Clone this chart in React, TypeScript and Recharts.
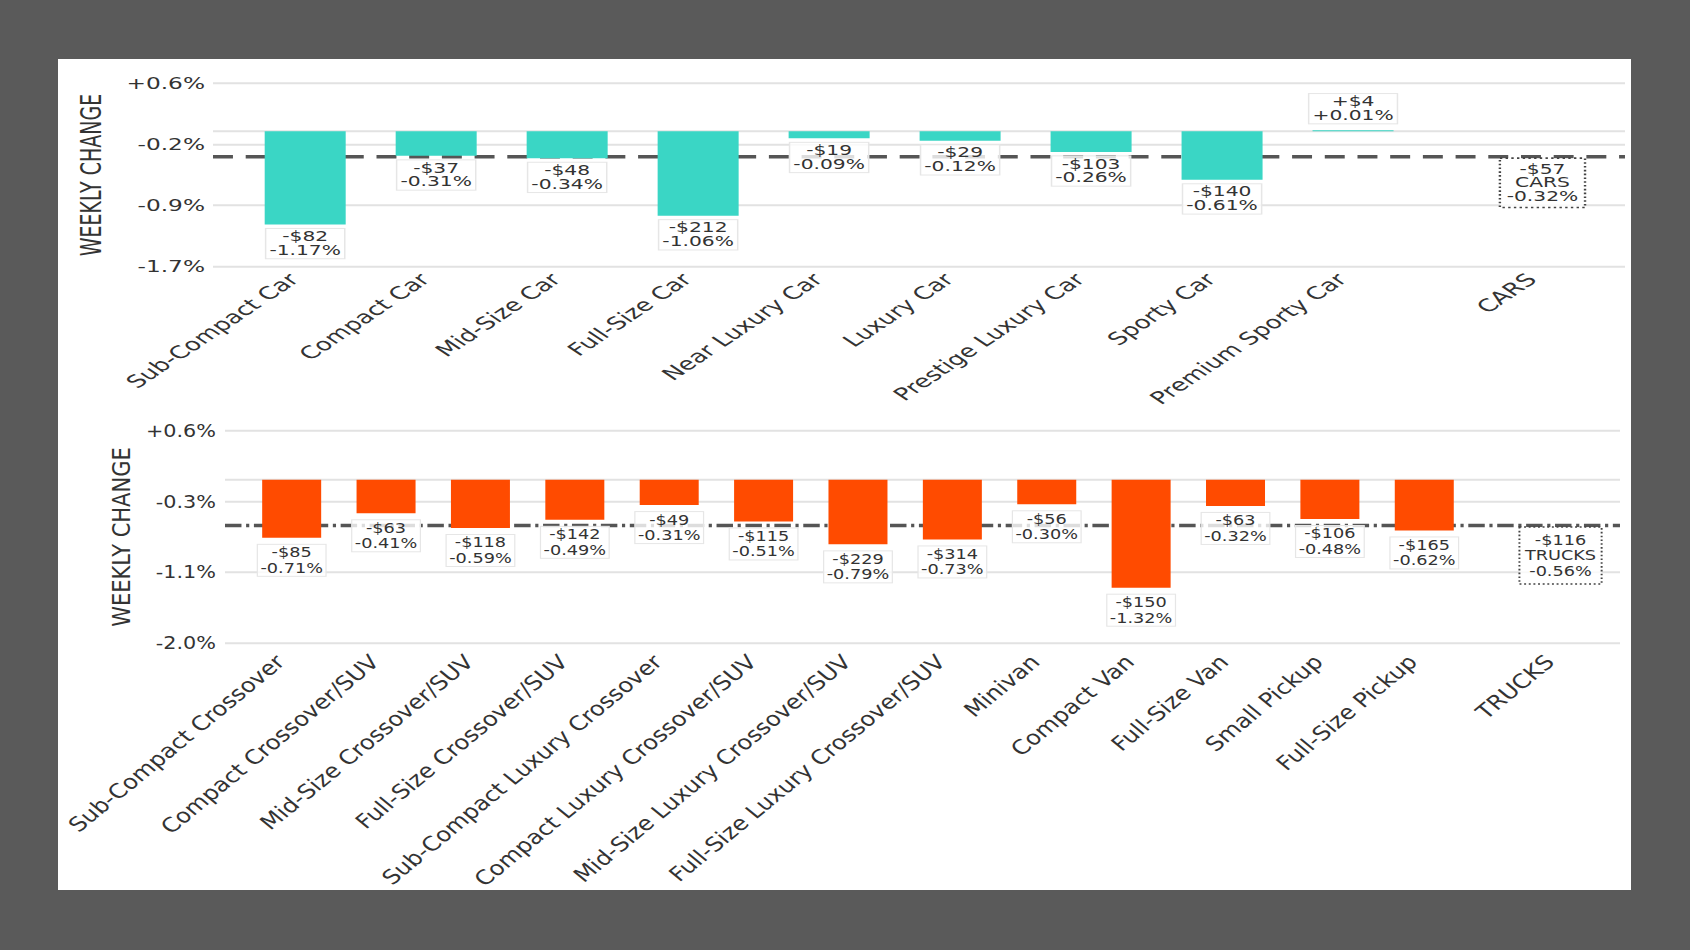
import React from 'react';
import {
  ComposedChart,
  Bar,
  Scatter,
  XAxis,
  YAxis,
  CartesianGrid,
  ReferenceLine,
  LabelList
} from 'recharts';

// ---- data ----
const CAR_NAMES = [
  'Sub-Compact Car', 'Compact Car', 'Mid-Size Car', 'Full-Size Car', 'Near Luxury Car',
  'Luxury Car', 'Prestige Luxury Car', 'Sporty Car', 'Premium Sporty Car'
];
const CAR_PCT = [-1.17, -0.31, -0.34, -1.06, -0.09, -0.12, -0.26, -0.61, 0.01];
const CAR_USD = [-82, -37, -48, -212, -19, -29, -103, -140, 4];
const CAR_TOTAL_NAME = 'CARS';
const CAR_TOTAL_PCT = -0.32;
const CAR_TOTAL_USD = -57;
const CAR_TICKS = [0.6, -0.17, -0.93, -1.7];

const TRUCK_NAMES = [
  'Sub-Compact Crossover', 'Compact Crossover/SUV', 'Mid-Size Crossover/SUV', 'Full-Size Crossover/SUV',
  'Sub-Compact Luxury Crossover', 'Compact Luxury Crossover/SUV', 'Mid-Size Luxury Crossover/SUV',
  'Full-Size Luxury Crossover/SUV', 'Minivan', 'Compact Van', 'Full-Size Van', 'Small Pickup', 'Full-Size Pickup'
];
const TRUCK_PCT = [-0.71, -0.41, -0.59, -0.49, -0.31, -0.51, -0.79, -0.73, -0.30, -1.32, -0.32, -0.48, -0.62];
const TRUCK_USD = [-85, -63, -118, -142, -49, -115, -229, -314, -56, -150, -63, -106, -165];
const TRUCK_TOTAL_NAME = 'TRUCKS';
const TRUCK_TOTAL_PCT = -0.56;
const TRUCK_TOTAL_USD = -116;
const TRUCK_TICKS = [0.6, -0.27, -1.13, -2.0];

const FONT = '"DejaVu Sans", sans-serif';
const INK = '#333';
const GRID = '#e2e2e2';
const SUMMARY_GAP = 1.45; // the total bar sits a little apart from the others

let measureCtx: CanvasRenderingContext2D | null = null;
const textWidth = (s: string, size: number) => {
  if (!measureCtx) measureCtx = document.createElement('canvas').getContext('2d');
  if (!measureCtx) return s.length * size * 0.62;
  measureCtx.font = `${size}px "DejaVu Sans"`;
  return measureCtx.measureText(s).width;
};

const money = (v: number) => (v < 0 ? '-$' : '+$') + Math.abs(v);
const pctText = (v: number) => (v < 0 ? '-' : '+') + Math.abs(v).toFixed(2) + '%';
const tickText = (v: number) => (v > 0 ? '+' : v < 0 ? '-' : '') + Math.abs(v).toFixed(1) + '%';

// horizontal sizes marked "Px" are page pixels, before the panel is stretched
type Look = {
  stretch: number;
  top: number;
  height: number;
  plotTop: number;
  plotBottom: number;
  plotLeftPx: number;
  plotRightPx: number;
  barPx: number;
  tickFont: number;
  tickGapPx: number;
  nameFont: number;
  nameDx: number;
  nameDy: number;
  titleFont: number;
  titleDxPx: number;
  labelFont: number;
  lineGap: number;
  labelOffset: number;
  totalOffset: number;
  totalPadBottom: number;
  dash: string;
};

const LabelBox = ({ cx, firstY, lines, look, dotted, padX, padTop, padBottom }: any) => {
  const tw = Math.max(...lines.map((l: string) => textWidth(l, look.labelFont)));
  const bw = tw + 2 * padX;
  const top = firstY - padTop;
  const bottom = firstY + look.lineGap * (lines.length - 1) + padBottom;
  return (
    <g>
      <rect
        x={cx - bw / 2}
        y={top}
        width={bw}
        height={bottom - top}
        fill="#fff"
        fillOpacity={0.8}
        stroke={dotted ? '#444' : '#e6e6e6'}
        strokeWidth={dotted ? 1.6 : 1}
        strokeDasharray={dotted ? '1.6 2.2' : undefined}
      />
      {lines.map((l: string, k: number) => (
        <text
          key={k}
          x={cx}
          y={firstY + k * look.lineGap}
          textAnchor="middle"
          dominantBaseline="central"
          fontSize={look.labelFont}
          fontFamily={FONT}
          fill={INK}
        >
          {l}
        </text>
      ))}
    </g>
  );
};

type PanelProps = {
  names: string[];
  pcts: number[];
  usd: number[];
  totalName: string;
  totalPct: number;
  totalUsd: number;
  ticks: number[];
  color: string;
  look: Look;
};

const Panel = ({ names, pcts, usd, totalName, totalPct, totalUsd, ticks, color, look }: PanelProps) => {
  const s = look.stretch;
  const rows = names.map((name, i) => ({ pos: i, name, pct: pcts[i] }));
  const totalPos = names.length - 1 + SUMMARY_GAP;
  const positions = [...rows.map(r => r.pos), totalPos];
  const labels = [...names, totalName];
  const width = 1690 / s;
  const plotLeft = look.plotLeftPx / s;
  const plotRight = look.plotRightPx / s;
  const leftMargin = 10;

  const nameTick = (p: any) => {
    const idx = positions.indexOf(p.payload.value);
    const bx = p.x + look.nameDx;
    const by = p.y + look.nameDy;
    return (
      <text
        x={bx}
        y={by}
        transform={`rotate(-45, ${bx}, ${by})`}
        textAnchor="end"
        fontSize={look.nameFont}
        fontFamily={FONT}
        fill={INK}
      >
        {labels[idx]}
      </text>
    );
  };

  const title = (p: any) => {
    const vb = p.viewBox;
    const tx = vb.x + vb.width - look.titleDxPx / s;
    const ty = vb.y + vb.height / 2;
    return (
      <text
        x={tx}
        y={ty}
        transform={`rotate(-90, ${tx}, ${ty})`}
        textAnchor="middle"
        dominantBaseline="central"
        fontSize={look.titleFont}
        fontFamily={FONT}
        fill={INK}
      >
        WEEKLY CHANGE
      </text>
    );
  };

  const valueLabel = (p: any) => {
    const b = p.viewBox && p.viewBox.width !== undefined ? p.viewBox : p;
    const x = Number(b.x);
    const y = Number(b.y);
    const w = Number(b.width);
    const h = Number(b.height);
    const v = Number(p.value);
    const i = Number(p.index);
    const end = v < 0 ? Math.max(y, y + h) : Math.min(y, y + h);
    const first = v < 0 ? end + look.labelOffset : end - look.labelOffset - 3 - look.lineGap;
    return (
      <LabelBox
        cx={x + w / 2}
        firstY={first}
        lines={[money(usd[i]), pctText(v)]}
        look={look}
        padX={2.5}
        padTop={8}
        padBottom={8.5}
      />
    );
  };

  const totalShape = (p: any) => (
    <LabelBox
      cx={p.cx}
      firstY={p.cy + look.totalOffset}
      lines={[money(totalUsd), totalName, pctText(totalPct)]}
      look={look}
      dotted
      padX={4.5}
      padTop={look.totalOffset - 1.5}
      padBottom={look.totalPadBottom}
    />
  );

  return (
    <div
      style={{
        position: 'absolute',
        left: 0,
        top: look.top,
        width,
        height: look.height,
        transform: `scaleX(${s})`,
        transformOrigin: '0 0'
      }}
    >
      <ComposedChart
        width={width}
        height={look.height}
        data={rows}
        margin={{ top: look.plotTop, right: width - plotRight, bottom: 0, left: leftMargin }}
      >
        <CartesianGrid vertical={false} stroke={GRID} strokeWidth={2} />
        <XAxis
          type="number"
          dataKey="pos"
          domain={[-0.7, names.length + 1.08]}
          ticks={positions}
          interval={0}
          tick={nameTick}
          tickLine={false}
          axisLine={false}
          tickSize={0}
          tickMargin={0}
          height={look.height - look.plotBottom}
        />
        <YAxis
          type="number"
          domain={[ticks[ticks.length - 1], ticks[0]]}
          ticks={ticks}
          interval={0}
          tickFormatter={tickText}
          tick={{ fill: INK, fontSize: look.tickFont, fontFamily: FONT }}
          tickLine={false}
          axisLine={false}
          tickSize={0}
          tickMargin={look.tickGapPx / s}
          width={plotLeft - leftMargin}
          label={title}
        />
        <ReferenceLine y={0} stroke={GRID} strokeWidth={2} zIndex={-50} />
        <ReferenceLine
          y={totalPct}
          stroke="#555"
          strokeWidth={3.5}
          strokeDasharray={look.dash}
          zIndex={100}
        />
        <Bar dataKey="pct" fill={color} barSize={look.barPx / s} isAnimationActive={false}>
          <LabelList dataKey="pct" content={valueLabel} />
        </Bar>
        <Scatter
          data={[{ pos: totalPos, pct: totalPct }]}
          dataKey="pct"
          shape={totalShape}
          isAnimationActive={false}
        />
      </ComposedChart>
    </div>
  );
};

const CAR_LOOK: Look = {
  stretch: 1.5,
  top: 0,
  height: 417,
  plotTop: 83.3,
  plotBottom: 266.7,
  plotLeftPx: 213,
  plotRightPx: 1625,
  barPx: 81,
  tickFont: 15.5,
  tickGapPx: 8,
  nameFont: 17.5,
  nameDx: -3,
  nameDy: 14,
  titleFont: 19,
  titleDxPx: 121,
  labelFont: 13.5,
  lineGap: 13.8,
  labelOffset: 12,
  totalOffset: 12.3,
  totalPadBottom: 11,
  dash: '13.3 8.5'
};

const TRUCK_LOOK: Look = {
  stretch: 1.22,
  top: 400,
  height: 540,
  plotTop: 30.7,
  plotBottom: 243.3,
  plotLeftPx: 225,
  plotRightPx: 1620,
  barPx: 59,
  tickFont: 17,
  tickGapPx: 9,
  nameFont: 20,
  nameDx: -4,
  nameDy: 20,
  titleFont: 21,
  titleDxPx: 103.4,
  labelFont: 14.5,
  lineGap: 15.5,
  labelOffset: 14.5,
  totalOffset: 14.4,
  totalPadBottom: 13,
  dash: '13.5 3.8 2.6 3.8'
};

const App = () => (
  <div
    style={{
      position: 'absolute',
      left: 0,
      top: 0,
      width: 1690,
      height: 950,
      background: '#5a5a5a',
      overflow: 'hidden',
      fontFamily: FONT
    }}
  >
    <div style={{ position: 'absolute', left: 58, top: 59, width: 1573, height: 831, background: '#fff' }} />
    <Panel
      names={CAR_NAMES}
      pcts={CAR_PCT}
      usd={CAR_USD}
      totalName={CAR_TOTAL_NAME}
      totalPct={CAR_TOTAL_PCT}
      totalUsd={CAR_TOTAL_USD}
      ticks={CAR_TICKS}
      color="#3ad6c5"
      look={CAR_LOOK}
    />
    <Panel
      names={TRUCK_NAMES}
      pcts={TRUCK_PCT}
      usd={TRUCK_USD}
      totalName={TRUCK_TOTAL_NAME}
      totalPct={TRUCK_TOTAL_PCT}
      totalUsd={TRUCK_TOTAL_USD}
      ticks={TRUCK_TICKS}
      color="#ff4b00"
      look={TRUCK_LOOK}
    />
  </div>
);

export default App;
